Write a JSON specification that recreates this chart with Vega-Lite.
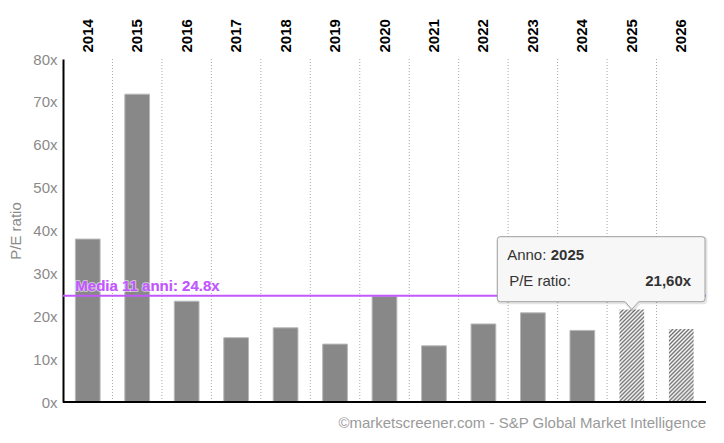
{
  "$schema": "https://vega.github.io/schema/vega-lite/v6.json",
  "width": 643,
  "height": 343,
  "autosize": "none",
  "padding": {"left": 63, "top": 59, "right": 18, "bottom": 41},
  "background": "white",
  "config": {
    "view": {"stroke": null},
    "font": "Liberation Sans",
    "axis": {"grid": false, "ticks": false},
    "axisX": {"labelFontSize": 15, "labelFontWeight": "bold", "labelColor": "#000000"}
  },
  "title": {
    "text": "©marketscreener.com - S&P Global Market Intelligence",
    "orient": "bottom",
    "anchor": "end",
    "frame": "group",
    "offset": 6,
    "fontSize": 15,
    "fontWeight": "normal",
    "color": "#9a9a9a"
  },
  "datasets": {
    "pe": [
      {"year": "2014", "pe": 38.0},
      {"year": "2015", "pe": 71.8},
      {"year": "2016", "pe": 23.5},
      {"year": "2017", "pe": 15.0},
      {"year": "2018", "pe": 17.3},
      {"year": "2019", "pe": 13.5},
      {"year": "2020", "pe": 24.6},
      {"year": "2021", "pe": 13.1},
      {"year": "2022", "pe": 18.2},
      {"year": "2023", "pe": 20.8},
      {"year": "2024", "pe": 16.7},
      {"year": "2025", "pe": 21.6},
      {"year": "2026", "pe": 17.0}
    ]
  },
  "layer": [
    {
      "data": {"name": "pe"},
      "transform": [{"filter": "datum.year < '2025'"}],
      "mark": {"type": "bar", "width": {"band": 0.5}, "fill": "#888888", "stroke": "#b8b8b8", "strokeWidth": 1},
      "encoding": {
        "x": {
          "field": "year",
          "type": "nominal",
          "scale": {
            "domain": ["2014", "2015", "2016", "2017", "2018", "2019", "2020", "2021", "2022", "2023", "2024", "2025", "2026"],
            "paddingInner": 0,
            "paddingOuter": 0
          },
          "axis": {
            "orient": "top",
            "title": null,
            "domain": false,
            "ticks": false,
            "grid": false,
            "labelAngle": -90,
            "labelFontSize": 15,
            "labelFontWeight": "bold",
            "labelColor": "#000000",
            "labelPadding": 7
          }
        },
        "y": {
          "field": "pe",
          "type": "quantitative",
          "scale": {"domain": [0, 80], "nice": false},
          "axis": {
            "values": [0, 10, 20, 30, 40, 50, 60, 70, 80],
            "labelExpr": "datum.value + 'x'",
            "title": "P/E ratio",
            "titleFontSize": 15,
            "titleFontWeight": "normal",
            "titleColor": "#8a8a8a",
            "titlePadding": 9,
            "labelFontSize": 15,
            "labelColor": "#8a8a8a",
            "labelPadding": 6,
            "ticks": false,
            "grid": false,
            "domainColor": "#000000",
            "domainWidth": 2
          }
        }
      }
    },
    {
      "data": {"name": "pe"},
      "transform": [{"filter": "datum.year != '2014'"}],
      "mark": {"type": "rule", "stroke": "#a8a8a8", "strokeWidth": 1, "strokeDash": [1, 2]},
      "encoding": {
        "x": {"field": "year", "type": "nominal", "bandPosition": 0}
      }
    },
    {
      "data": {"name": "pe"},
      "transform": [{"filter": "datum.year == '2025'"}],
      "mark": {
        "type": "bar",
        "width": {"band": 0.5},
        "fill": {
          "gradient": "linear",
          "x1": 0, "y1": 0, "x2": 0.347, "y2": 1.3,
          "stops": [
            {"offset": 0, "color": "#707070"}, {"offset": 0.0155, "color": "#ffffff"},
            {"offset": 0.031, "color": "#707070"}, {"offset": 0.0465, "color": "#ffffff"},
            {"offset": 0.062, "color": "#707070"}, {"offset": 0.0775, "color": "#ffffff"},
            {"offset": 0.093, "color": "#707070"}, {"offset": 0.1085, "color": "#ffffff"},
            {"offset": 0.124, "color": "#707070"}, {"offset": 0.1395, "color": "#ffffff"},
            {"offset": 0.155, "color": "#707070"}, {"offset": 0.1705, "color": "#ffffff"},
            {"offset": 0.186, "color": "#707070"}, {"offset": 0.2015, "color": "#ffffff"},
            {"offset": 0.217, "color": "#707070"}, {"offset": 0.2325, "color": "#ffffff"},
            {"offset": 0.248, "color": "#707070"}, {"offset": 0.2635, "color": "#ffffff"},
            {"offset": 0.279, "color": "#707070"}, {"offset": 0.2945, "color": "#ffffff"},
            {"offset": 0.31, "color": "#707070"}, {"offset": 0.3255, "color": "#ffffff"},
            {"offset": 0.341, "color": "#707070"}, {"offset": 0.3565, "color": "#ffffff"},
            {"offset": 0.372, "color": "#707070"}, {"offset": 0.3875, "color": "#ffffff"},
            {"offset": 0.403, "color": "#707070"}, {"offset": 0.4185, "color": "#ffffff"},
            {"offset": 0.434, "color": "#707070"}, {"offset": 0.4495, "color": "#ffffff"},
            {"offset": 0.465, "color": "#707070"}, {"offset": 0.4805, "color": "#ffffff"},
            {"offset": 0.496, "color": "#707070"}, {"offset": 0.5115, "color": "#ffffff"},
            {"offset": 0.527, "color": "#707070"}, {"offset": 0.5425, "color": "#ffffff"},
            {"offset": 0.558, "color": "#707070"}, {"offset": 0.5735, "color": "#ffffff"},
            {"offset": 0.589, "color": "#707070"}, {"offset": 0.6045, "color": "#ffffff"},
            {"offset": 0.62, "color": "#707070"}, {"offset": 0.6355, "color": "#ffffff"},
            {"offset": 0.651, "color": "#707070"}, {"offset": 0.6665, "color": "#ffffff"},
            {"offset": 0.682, "color": "#707070"}, {"offset": 0.6975, "color": "#ffffff"},
            {"offset": 0.713, "color": "#707070"}, {"offset": 0.7285, "color": "#ffffff"},
            {"offset": 0.744, "color": "#707070"}, {"offset": 0.7595, "color": "#ffffff"},
            {"offset": 0.775, "color": "#707070"}, {"offset": 0.7905, "color": "#ffffff"},
            {"offset": 0.806, "color": "#707070"}, {"offset": 0.8215, "color": "#ffffff"},
            {"offset": 0.837, "color": "#707070"}, {"offset": 0.8525, "color": "#ffffff"},
            {"offset": 0.868, "color": "#707070"}, {"offset": 0.8835, "color": "#ffffff"},
            {"offset": 0.899, "color": "#707070"}, {"offset": 0.9145, "color": "#ffffff"},
            {"offset": 0.93, "color": "#707070"}, {"offset": 0.9455, "color": "#ffffff"},
            {"offset": 0.961, "color": "#707070"}, {"offset": 0.9765, "color": "#ffffff"},
            {"offset": 0.992, "color": "#707070"}
          ]
        }
      },
      "encoding": {
        "x": {"field": "year", "type": "nominal"},
        "y": {"field": "pe", "type": "quantitative"}
      }
    },
    {
      "data": {"name": "pe"},
      "transform": [{"filter": "datum.year == '2026'"}],
      "mark": {
        "type": "bar",
        "width": {"band": 0.5},
        "fill": {
          "gradient": "linear",
          "x1": 0, "y1": 0, "x2": 0.4405, "y2": 1.3,
          "stops": [
            {"offset": 0, "color": "#707070"}, {"offset": 0.019, "color": "#ffffff"},
            {"offset": 0.038, "color": "#707070"}, {"offset": 0.057, "color": "#ffffff"},
            {"offset": 0.076, "color": "#707070"}, {"offset": 0.095, "color": "#ffffff"},
            {"offset": 0.114, "color": "#707070"}, {"offset": 0.133, "color": "#ffffff"},
            {"offset": 0.152, "color": "#707070"}, {"offset": 0.171, "color": "#ffffff"},
            {"offset": 0.19, "color": "#707070"}, {"offset": 0.209, "color": "#ffffff"},
            {"offset": 0.228, "color": "#707070"}, {"offset": 0.247, "color": "#ffffff"},
            {"offset": 0.266, "color": "#707070"}, {"offset": 0.285, "color": "#ffffff"},
            {"offset": 0.304, "color": "#707070"}, {"offset": 0.323, "color": "#ffffff"},
            {"offset": 0.342, "color": "#707070"}, {"offset": 0.361, "color": "#ffffff"},
            {"offset": 0.38, "color": "#707070"}, {"offset": 0.399, "color": "#ffffff"},
            {"offset": 0.418, "color": "#707070"}, {"offset": 0.437, "color": "#ffffff"},
            {"offset": 0.456, "color": "#707070"}, {"offset": 0.475, "color": "#ffffff"},
            {"offset": 0.494, "color": "#707070"}, {"offset": 0.513, "color": "#ffffff"},
            {"offset": 0.532, "color": "#707070"}, {"offset": 0.551, "color": "#ffffff"},
            {"offset": 0.57, "color": "#707070"}, {"offset": 0.589, "color": "#ffffff"},
            {"offset": 0.608, "color": "#707070"}, {"offset": 0.627, "color": "#ffffff"},
            {"offset": 0.646, "color": "#707070"}, {"offset": 0.665, "color": "#ffffff"},
            {"offset": 0.684, "color": "#707070"}, {"offset": 0.703, "color": "#ffffff"},
            {"offset": 0.722, "color": "#707070"}, {"offset": 0.741, "color": "#ffffff"},
            {"offset": 0.76, "color": "#707070"}, {"offset": 0.779, "color": "#ffffff"},
            {"offset": 0.798, "color": "#707070"}, {"offset": 0.817, "color": "#ffffff"},
            {"offset": 0.836, "color": "#707070"}, {"offset": 0.855, "color": "#ffffff"},
            {"offset": 0.874, "color": "#707070"}, {"offset": 0.893, "color": "#ffffff"},
            {"offset": 0.912, "color": "#707070"}, {"offset": 0.931, "color": "#ffffff"},
            {"offset": 0.95, "color": "#707070"}, {"offset": 0.969, "color": "#ffffff"},
            {"offset": 0.988, "color": "#707070"}
          ]
        }
      },
      "encoding": {
        "x": {"field": "year", "type": "nominal"},
        "y": {"field": "pe", "type": "quantitative"}
      }
    },
    {
      "data": {"values": [{}]},
      "mark": {"type": "rule", "stroke": "#c158ff", "strokeWidth": 2},
      "encoding": {
        "y": {"datum": 24.8, "type": "quantitative"}
      }
    },
    {
      "data": {"values": [{}]},
      "mark": {
        "type": "text",
        "text": "Media 11 anni: 24.8x",
        "align": "left",
        "baseline": "alphabetic",
        "dy": -5,
        "fontSize": 15,
        "fontWeight": "bold",
        "fill": "#c158ff",
        "stroke": "#ffffff",
        "strokeWidth": 2,
        "strokeOpacity": 0.55,
        "strokeJoin": "round"
      },
      "encoding": {
        "x": {"datum": "2014", "type": "nominal", "bandPosition": 0.25},
        "y": {"datum": 24.8, "type": "quantitative"}
      }
    },
    {
      "data": {"values": [{}]},
      "mark": {
        "type": "text",
        "text": "Media 11 anni: 24.8x",
        "align": "left",
        "baseline": "alphabetic",
        "dy": -5,
        "fontSize": 15,
        "fontWeight": "bold",
        "fill": "#c158ff"
      },
      "encoding": {
        "x": {"datum": "2014", "type": "nominal", "bandPosition": 0.25},
        "y": {"datum": 24.8, "type": "quantitative"}
      }
    },
    {
      "data": {"values": [{}]},
      "mark": {"type": "rule", "stroke": "#000000", "strokeWidth": 2},
      "encoding": {
        "y": {"datum": 0, "type": "quantitative"}
      }
    },
    {
      "data": {"values": [{}]},
      "mark": {
        "type": "point",
        "shape": "M-1.315,-0.727L0.702,-0.727Q0.732,-0.727,0.732,-0.697L0.732,-0.107Q0.732,-0.077,0.702,-0.077L0.068,-0.077L0,0L-0.068,-0.077L-1.315,-0.077Q-1.345,-0.077,-1.345,-0.107L-1.345,-0.697Q-1.345,-0.727,-1.315,-0.727Z",
        "size": 40000,
        "filled": false,
        "stroke": "#000000",
        "strokeOpacity": 0.1,
        "strokeWidth": 3,
        "opacity": 1,
        "xOffset": 1,
        "yOffset": 1
      },
      "encoding": {
        "x": {"datum": "2025", "type": "nominal"},
        "y": {"datum": 21.6, "type": "quantitative"}
      }
    },
    {
      "data": {"values": [{}]},
      "mark": {
        "type": "point",
        "shape": "M-1.315,-0.727L0.702,-0.727Q0.732,-0.727,0.732,-0.697L0.732,-0.107Q0.732,-0.077,0.702,-0.077L0.068,-0.077L0,0L-0.068,-0.077L-1.315,-0.077Q-1.345,-0.077,-1.345,-0.107L-1.345,-0.697Q-1.345,-0.727,-1.315,-0.727Z",
        "size": 40000,
        "filled": true,
        "fill": "#f7f7f7",
        "fillOpacity": 1,
        "stroke": "#a0a0a0",
        "strokeWidth": 1,
        "opacity": 1
      },
      "encoding": {
        "x": {"datum": "2025", "type": "nominal"},
        "y": {"datum": 21.6, "type": "quantitative"}
      }
    },
    {
      "data": {"values": [{}]},
      "mark": {"type": "text", "text": "Anno: ", "align": "left", "baseline": "alphabetic", "fontSize": 15, "fill": "#333333"},
      "encoding": {
        "x": {"datum": "2022", "type": "nominal", "bandPosition": 0.98},
        "y": {"datum": 33.1, "type": "quantitative"}
      }
    },
    {
      "data": {"values": [{}]},
      "mark": {"type": "text", "text": "2025", "align": "left", "baseline": "alphabetic", "fontSize": 15, "fontWeight": "bold", "fill": "#333333"},
      "encoding": {
        "x": {"datum": "2023", "type": "nominal", "bandPosition": 0.86},
        "y": {"datum": 33.1, "type": "quantitative"}
      }
    },
    {
      "data": {"values": [{}]},
      "mark": {"type": "text", "text": "P/E ratio:", "align": "left", "baseline": "alphabetic", "fontSize": 15, "fill": "#333333"},
      "encoding": {
        "x": {"datum": "2023", "type": "nominal", "bandPosition": 0.02},
        "y": {"datum": 27.13, "type": "quantitative"}
      }
    },
    {
      "data": {"values": [{}]},
      "mark": {"type": "text", "text": "21,60x", "align": "right", "baseline": "alphabetic", "fontSize": 15, "fontWeight": "bold", "fill": "#333333"},
      "encoding": {
        "x": {"datum": "2026", "type": "nominal", "bandPosition": 0.7},
        "y": {"datum": 27.13, "type": "quantitative"}
      }
    }
  ]
}
